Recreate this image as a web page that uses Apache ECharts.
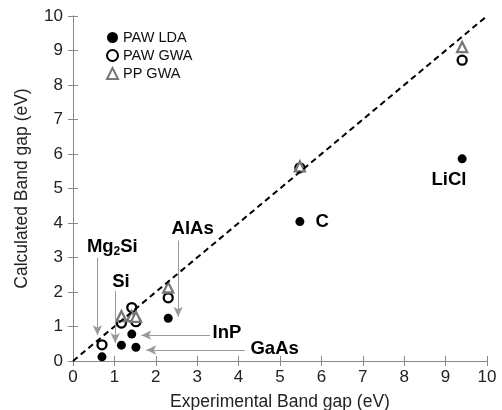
<!DOCTYPE html>
<html>
<head>
<meta charset="utf-8">
<script src="https://cdn.jsdelivr.net/npm/echarts@6/dist/echarts.min.js"></script>
<style>
  html, body { margin: 0; padding: 0; background: #fff; }
  #chart { width: 502px; height: 410px; }
</style>
</head>
<body>
<div id="chart"></div>
<script>
// data: [experimental, calculated]
const pawLda = [[0.7, 0.12], [1.17, 0.46], [1.42, 0.78], [1.52, 0.40], [2.3, 1.24], [5.48, 4.04], [9.4, 5.86]];
const pawGwa = [[0.7, 0.47], [1.17, 1.1], [1.42, 1.55], [1.52, 1.14], [2.3, 1.83], [5.48, 5.6], [9.4, 8.72]];
const ppGwa = [[1.17, 1.3], [1.42, 1.3], [1.52, 1.28], [2.3, 2.13], [5.48, 5.64], [9.4, 9.1]];
const diagonal = [[0, 0], [10, 10]];

// material labels [x, y, text]
const labels = [
  [9.08, 5.25, 'LiCl'], [6.02, 4.02, 'C'], [2.89, 3.83, 'AlAs'],
  [0.95, 3.3, 'Mg{s|2}Si'], [1.16, 2.3, 'Si'], [3.72, 0.8, 'InP'], [4.87, 0.36, 'GaAs']
];
// arrows [from, to]
const arrows = [
  [[0.59, 3.0], [0.59, 0.75]],
  [[1.02, 2.03], [1.02, 0.52]],
  [[2.54, 3.49], [2.54, 1.28]],
  [[3.31, 0.75], [1.65, 0.75]],
  [[4.15, 0.32], [1.77, 0.32]]
];
const ticks = [0, 1, 2, 3, 4, 5, 6, 7, 8, 9, 10];

const chart = echarts.init(document.getElementById('chart'));
const font = 'Liberation Sans, Arial, sans-serif';
const axisGray = '#888';

const baseAxis = {
  type: 'value', min: 0, max: 10, interval: 1,
  axisLine: { show: true, lineStyle: { color: axisGray, width: 1 } },
  axisTick: { show: true, inside: true, length: 5, lineStyle: { color: axisGray } },
  splitLine: { show: false }
};

chart.setOption({
  animation: false,
  textStyle: { fontFamily: font },
  grid: { left: 73, right: 15, top: 16, bottom: 49, outerBoundsMode: 'none' },
  legend: {
    orient: 'vertical', left: 101, top: 25, itemGap: 3,
    itemWidth: 11, itemHeight: 11,
    textStyle: { fontSize: 14.5, color: '#111', fontFamily: font },
    data: ['PAW LDA', 'PAW GWA', 'PP GWA']
  },
  xAxis: [
    Object.assign({}, baseAxis, {
      name: 'Experimental Band gap (eV)', nameLocation: 'middle', nameGap: 32,
      nameTextStyle: { fontSize: 17.5, color: '#222' },
      axisLabel: { fontSize: 17, color: '#222', margin: 8, formatter: v => ticks.includes(v) ? String(v) : '' }
    }),
    Object.assign({}, baseAxis, { position: 'top', axisLabel: { show: false } })
  ],
  yAxis: [
    Object.assign({}, baseAxis, {
      name: 'Calculated Band gap (eV)', nameLocation: 'middle', nameGap: 42,
      nameTextStyle: { fontSize: 17.5, color: '#222' },
      axisLabel: { fontSize: 17, color: '#222', margin: 10 }
    }),
    Object.assign({}, baseAxis, { position: 'right', axisLabel: { show: false } })
  ],
  series: [
    {
      type: 'line', data: diagonal, symbol: 'none', silent: true,
      lineStyle: { color: '#000', width: 2, type: [6, 4] },
      markLine: {
        silent: true, symbol: ['none', 'arrow'], symbolSize: [7, 10],
        lineStyle: { color: '#999', width: 1, type: 'solid' },
        label: { show: false },
        data: arrows.map(a => [{ coord: a[0] }, { coord: a[1] }])
      }
    },
    {
      name: 'PAW LDA', type: 'scatter', data: pawLda, symbol: 'circle', symbolSize: 9,
      itemStyle: { color: '#000', opacity: 1 }
    },
    {
      name: 'PAW GWA', type: 'scatter', data: pawGwa, symbol: 'circle', symbolSize: 9,
      itemStyle: { color: '#fff', borderColor: '#000', borderWidth: 2.3, opacity: 1 }
    },
    {
      name: 'PP GWA', type: 'scatter', data: ppGwa, symbol: 'triangle', symbolSize: 10,
      itemStyle: { color: '#fff', borderColor: '#777', borderWidth: 2.3, opacity: 1 }
    },
    {
      type: 'scatter', silent: true, symbolSize: 0,
      itemStyle: { opacity: 1 },
      data: labels.map(l => ({ value: [l[0], l[1]], name: l[2] })),
      label: {
        show: true, position: 'inside', formatter: p => p.name,
        fontSize: 18.5, fontWeight: 'bold', color: '#000', fontFamily: font,
        rich: { s: { fontSize: 12, fontWeight: 'bold', verticalAlign: 'bottom', padding: [9, 0, 0, 0], color: '#000' } }
      }
    }
  ]
});
</script>
</body>
</html>
